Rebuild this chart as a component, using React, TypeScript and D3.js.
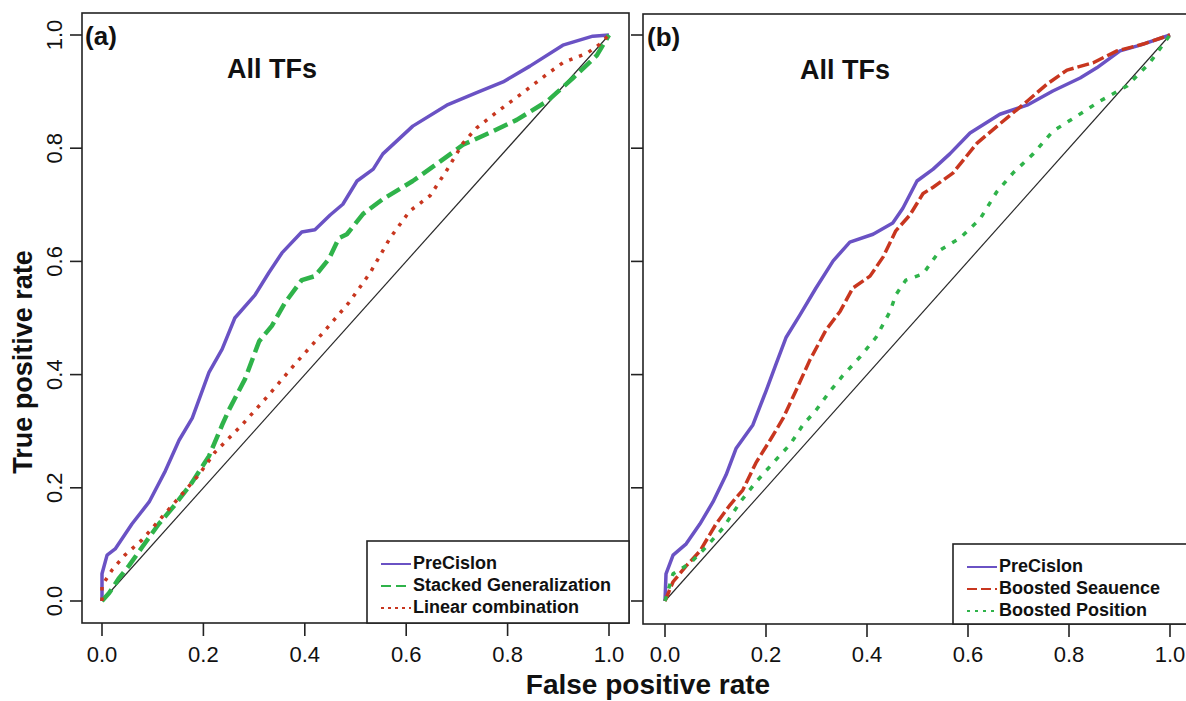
import React from "react";
import * as d3 from "d3";

type Pt = [number, number];

// tick values shared by both panels
const axisTicks = [0, 0.2, 0.4, 0.6, 0.8, 1.0];
const tickLabels = ["0.0", "0.2", "0.4", "0.6", "0.8", "1.0"];

// panel (a)
const precisionA: Pt[] = [
  [0, 0], [0.0, 0.048], [0.01, 0.081], [0.026, 0.092], [0.059, 0.136], [0.093, 0.175],
  [0.125, 0.23], [0.152, 0.284], [0.178, 0.323], [0.211, 0.404], [0.237, 0.445],
  [0.262, 0.5], [0.302, 0.541], [0.329, 0.58], [0.355, 0.615], [0.394, 0.652],
  [0.42, 0.656], [0.45, 0.682], [0.475, 0.701], [0.503, 0.742], [0.535, 0.763],
  [0.554, 0.79], [0.613, 0.839], [0.68, 0.876], [0.739, 0.898], [0.791, 0.917],
  [0.844, 0.945], [0.909, 0.982], [0.968, 0.998], [1, 1],
];
const stackedA: Pt[] = [
  [0, 0], [0.014, 0.014], [0.034, 0.041], [0.053, 0.062], [0.079, 0.095], [0.112, 0.136],
  [0.144, 0.17], [0.178, 0.21], [0.211, 0.256], [0.237, 0.311], [0.25, 0.337],
  [0.282, 0.392], [0.31, 0.459], [0.335, 0.486], [0.361, 0.527], [0.394, 0.567],
  [0.42, 0.574], [0.448, 0.605], [0.467, 0.641], [0.483, 0.648], [0.515, 0.684],
  [0.554, 0.71], [0.613, 0.742], [0.66, 0.772], [0.712, 0.806], [0.771, 0.83],
  [0.818, 0.85], [0.878, 0.883], [0.929, 0.924], [0.976, 0.964], [1, 1],
];
const linearA: Pt[] = [
  [0, 0], [0.0, 0.027], [0.02, 0.055], [0.045, 0.081], [0.079, 0.108], [0.118, 0.148],
  [0.158, 0.189], [0.191, 0.223], [0.223, 0.263], [0.276, 0.311], [0.329, 0.364],
  [0.381, 0.419], [0.434, 0.472], [0.487, 0.527], [0.529, 0.58], [0.568, 0.641],
  [0.607, 0.689], [0.647, 0.716], [0.68, 0.761], [0.712, 0.809], [0.739, 0.836],
  [0.779, 0.864], [0.83, 0.898], [0.878, 0.931], [0.909, 0.951], [0.957, 0.968],
  [0.982, 0.984], [1, 1],
];

// panel (b)
const precisionB: Pt[] = [
  [0, 0], [0.002, 0.048], [0.016, 0.081], [0.042, 0.101], [0.069, 0.136], [0.095, 0.175],
  [0.121, 0.223], [0.141, 0.27], [0.174, 0.311], [0.2, 0.371], [0.22, 0.419],
  [0.24, 0.466], [0.267, 0.505], [0.299, 0.553], [0.333, 0.601], [0.366, 0.634],
  [0.412, 0.648], [0.451, 0.668], [0.471, 0.694], [0.499, 0.742], [0.531, 0.763],
  [0.564, 0.79], [0.604, 0.827], [0.663, 0.86], [0.717, 0.876], [0.768, 0.901],
  [0.822, 0.924], [0.855, 0.942], [0.901, 0.972], [0.941, 0.982], [1, 1],
];
const sequenceB: Pt[] = [
  [0, 0], [0.016, 0.034], [0.042, 0.062], [0.069, 0.088], [0.101, 0.136], [0.129, 0.17],
  [0.154, 0.196], [0.18, 0.244], [0.208, 0.284], [0.234, 0.323], [0.259, 0.371],
  [0.287, 0.426], [0.319, 0.479], [0.347, 0.512], [0.372, 0.553], [0.406, 0.574],
  [0.432, 0.608], [0.457, 0.654], [0.485, 0.682], [0.511, 0.72], [0.531, 0.731],
  [0.57, 0.756], [0.618, 0.809], [0.663, 0.843], [0.717, 0.883], [0.756, 0.913],
  [0.796, 0.938], [0.848, 0.951], [0.895, 0.972], [0.947, 0.984], [1, 1],
];
const positionB: Pt[] = [
  [0, 0], [0.016, 0.048], [0.05, 0.067], [0.081, 0.095], [0.115, 0.129], [0.149, 0.175],
  [0.18, 0.21], [0.214, 0.244], [0.248, 0.277], [0.273, 0.311], [0.299, 0.337],
  [0.327, 0.371], [0.352, 0.398], [0.386, 0.431], [0.418, 0.466], [0.446, 0.512],
  [0.457, 0.541], [0.477, 0.567], [0.511, 0.578], [0.545, 0.62], [0.584, 0.641],
  [0.624, 0.675], [0.657, 0.723], [0.689, 0.756], [0.729, 0.79], [0.768, 0.83],
  [0.816, 0.857], [0.861, 0.883], [0.915, 0.91], [0.96, 0.951], [1, 1],
];

const diagonal: Pt[] = [[0, 0], [1, 1]];

const legendA = ["PreCislon", "Stacked Generalization", "Linear combination"];
const legendB = ["PreCislon", "Boosted Seauence", "Boosted Position"];

const PURPLE = "#6a52c4";
const GREEN = "#2fb34a";
const RED = "#c8361f";
const FONT = "'Liberation Sans', Arial, Helvetica, sans-serif";

// line styles: plot dash, then the shorter legend sample dash
const styleSolid = { color: PURPLE, width: 3.5, dash: "none", key: "none" };
const styleGreenDash = { color: GREEN, width: 4.5, dash: "15 6", key: "10 5" };
const styleRedDot = { color: RED, width: 3.5, dash: "3.5 7", key: "3 4" };
const styleRedDash = { color: RED, width: 3.5, dash: "12 4", key: "10 4" };
const styleGreenDot = { color: GREEN, width: 3.5, dash: "5 8", key: "3 5" };

function Panel(props: any) {
  const { frame, xr, yr, tag, tagX, titleX, series, legend, legendBox, showYLabels } = props;
  const x = d3.scaleLinear().domain([0, 1]).range(xr);
  const y = d3.scaleLinear().domain([0, 1]).range(yr);
  const line = d3.line<Pt>().x((d) => x(d[0])).y((d) => y(d[1]));

  return (
    <g>
      <defs>
        <clipPath id={"clip" + tag}>
          <rect x={frame.l} y={frame.t} width={frame.r - frame.l} height={frame.b - frame.t} />
        </clipPath>
      </defs>
      <g clipPath={`url(#clip${tag})`}>
        <path d={line(diagonal) || ""} fill="none" stroke="#2a2a2a" strokeWidth={1.2} />
        {series.map((s: any, i: number) => (
          <path key={i} d={line(s.data) || ""} fill="none" stroke={s.style.color}
            strokeWidth={s.style.width} strokeDasharray={s.style.dash}
            strokeLinejoin="round" />
        ))}
      </g>
      <rect x={frame.l} y={frame.t} width={frame.r - frame.l} height={frame.b - frame.t}
        fill="none" stroke="#222" strokeWidth={1.6} />

      {/* y ticks */}
      {axisTicks.map((t, i) => (
        <g key={"y" + i}>
          <line x1={frame.l - 12} x2={frame.l} y1={y(t)} y2={y(t)} stroke="#222" strokeWidth={1.6} />
          {showYLabels && (
            <text transform={`translate(${frame.l - 20},${y(t)}) rotate(-90)`} textAnchor="middle"
              fontFamily={FONT} fontSize={22} fill="#111">{tickLabels[i]}</text>
          )}
        </g>
      ))}
      {/* x ticks */}
      {axisTicks.map((t, i) => (
        <g key={"x" + i}>
          <line x1={x(t)} x2={x(t)} y1={frame.b} y2={frame.b + 13} stroke="#222" strokeWidth={1.6} />
          <text x={x(t)} y={662} textAnchor="middle" fontFamily={FONT} fontSize={22}
            fill="#111">{tickLabels[i]}</text>
        </g>
      ))}

      <text x={tagX} y={frame.t + 32} fontFamily={FONT} fontSize={26} fontWeight="bold" fill="#111">
        ({tag})
      </text>
      <text x={titleX} y={frame.t + 65} textAnchor="middle" fontFamily={FONT} fontSize={27}
        fontWeight="bold" fill="#111">All TFs</text>

      {/* legend */}
      <rect x={legendBox.l} y={legendBox.t} width={legendBox.r - legendBox.l}
        height={legendBox.b - legendBox.t} fill="#fff" stroke="#222" strokeWidth={1.6} />
      {series.map((s: any, i: number) => {
        const yy = legendBox.t + 23 + i * 22;
        return (
          <g key={"l" + i}>
            <line x1={legendBox.l + 14} x2={legendBox.l + 44} y1={yy} y2={yy}
              stroke={s.style.color} strokeWidth={2} strokeDasharray={s.style.key} />
            <text x={legendBox.l + 46} y={yy + 5} fontFamily={FONT} fontSize={18}
              fontWeight="bold" fill="#111">{legend[i]}</text>
          </g>
        );
      })}
    </g>
  );
}

export default function App() {
  const seriesA = [
    { data: precisionA, style: styleSolid },
    { data: stackedA, style: styleGreenDash },
    { data: linearA, style: styleRedDot },
  ];
  const seriesB = [
    { data: precisionB, style: styleSolid },
    { data: sequenceB, style: styleRedDash },
    { data: positionB, style: styleGreenDot },
  ];
  return (
    <svg width={1186} height={701} style={{ position: "absolute", left: 0, top: 0, background: "#fff" }}>
      <Panel frame={{ l: 82, t: 13, r: 629, b: 623 }} xr={[102, 609]} yr={[601, 35]} tag="a"
        tagX={85} titleX={272} series={seriesA} legend={legendA}
        legendBox={{ l: 367, t: 541, r: 629, b: 623 }} showYLabels={true} />
      <Panel frame={{ l: 643, t: 14, r: 1196, b: 624 }} xr={[665, 1170]} yr={[601, 35]} tag="b"
        tagX={647} titleX={845} series={seriesB} legend={legendB}
        legendBox={{ l: 953, t: 544, r: 1196, b: 624 }} showYLabels={false} />
      <text transform="translate(32,362) rotate(-90)" textAnchor="middle" fontFamily={FONT}
        fontSize={27} fontWeight="bold" fill="#111">True positive rate</text>
      <text x={648} y={694} textAnchor="middle" fontFamily={FONT} fontSize={28} fontWeight="bold"
        fill="#111">False positive rate</text>
    </svg>
  );
}
